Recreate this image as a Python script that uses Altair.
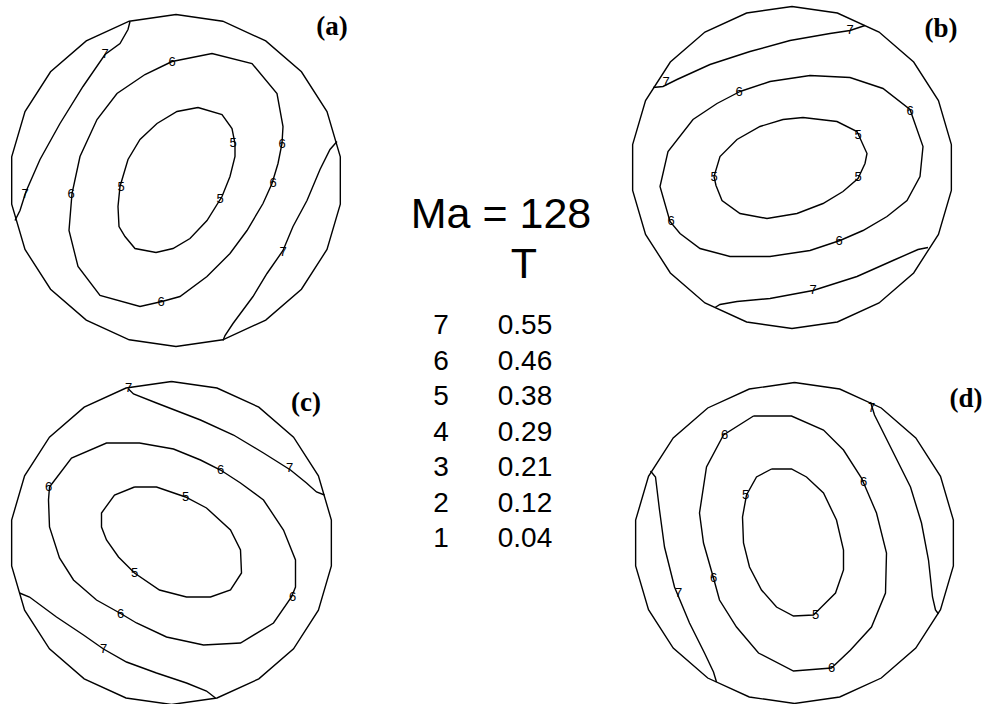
import math

import altair as alt
import pandas as pd

# ---------------------------------------------------------------------------
# Contour traces of T on the four discs. Points are (u, v) offsets from the
# disc centre in plot units, v pointing up. Closed curves repeat their start.
# ---------------------------------------------------------------------------
A_LEVEL5 = [(22, 73), (46, 66), (56, 52), (59, 37), (59, 24), (54, 4), (46, -16),
            (31, -40), (14, -58), (-3, -68), (-20, -72), (-41, -68), (-51, -56),
            (-57, -46), (-58, -26), (-56, -6), (-48, 21), (-36, 41), (-19, 57),
            (1, 69), (22, 73)]
A_LEVEL6 = [(-4, 119), (36, 127), (76, 117), (101, 87), (107, 54), (106, 37),
            (102, 17), (96, -3), (87, -23), (71, -50), (54, -73), (31, -96),
            (4, -116), (-14, -121), (-36, -126), (-76, -115), (-98, -86),
            (-107, -50), (-104, -13), (-96, 24), (-79, 61), (-59, 87), (-31, 106),
            (-4, 119)]
A_LEVEL7_WEST = [(-46, 159), (-48, 151), (-56, 137), (-71, 126), (-93, 94),
                 (-116, 57), (-136, 21), (-150, -11), (-156, -30), (-161, -40)]
A_LEVEL7_EAST = [(161, 39), (154, 31), (144, 11), (131, -20), (117, -46),
                 (107, -70), (91, -93), (77, -116), (57, -143), (49, -155),
                 (47, -160)]
A_TAGS = [(57, 38, "5"), (-55, -6, "5"), (44, -18, "5"), (-4, 119, "6"),
          (106, 37, "6"), (97, -2, "6"), (-15, -121, "6"), (-105, -13, "6"),
          (-71, 127, "7"), (-151, -13, "7"), (107, -71, "7")]

B_LEVEL5 = [(11, 50), (45, 46), (65, 36), (75, 14), (73, 4), (66, -11), (51, -24),
            (31, -36), (5, -46), (-25, -51), (-52, -46), (-70, -33), (-76, -18),
            (-78, -9), (-72, 11), (-55, 28), (-32, 41), (-9, 48), (11, 50)]
B_LEVEL6 = [(-52, 76), (-22, 86), (18, 92), (58, 90), (91, 79), (118, 58),
            (131, 21), (128, -9), (115, -33), (95, -49), (71, -63), (48, -73),
            (18, -83), (-22, -89), (-62, -89), (-92, -81), (-112, -66),
            (-122, -54), (-132, -19), (-124, 16), (-99, 48), (-75, 64), (-52, 76)]
B_LEVEL7_NORTH = [(-139, 80), (-129, 81), (-115, 88), (-82, 103), (-42, 116),
                  (-2, 127), (38, 134), (58, 137), (73, 142)]
B_LEVEL7_SOUTH = [(136, -80), (126, -82), (101, -93), (65, -109), (21, -123),
                  (-22, -131), (-55, -134), (-72, -137), (-77, -140)]
B_TAGS = [(66, 33, "5"), (-78, -9, "5"), (66, -9, "5"), (-53, 76, "6"),
          (118, 57, "6"), (47, -73, "6"), (-121, -53, "6"), (58, 138, "7"),
          (-126, 86, "7"), (21, -122, "7")]

C_LEVEL5 = [(-37, 56), (-15, 56), (14, 46), (35, 35), (59, 13), (69, -7),
            (70, -30), (59, -47), (39, -54), (15, -54), (-12, -47), (-37, -30),
            (-53, -14), (-65, 3), (-70, 16), (-70, 30), (-57, 48), (-37, 56)]
C_LEVEL6 = [(-122, 56), (-100, 85), (-65, 100), (-32, 100), (2, 94), (29, 83),
            (49, 73), (69, 60), (92, 43), (112, 13), (124, -17), (124, -44),
            (120, -54), (102, -80), (69, -100), (32, -102), (-5, -94), (-35, -80),
            (-50, -71), (-75, -57), (-98, -37), (-112, -15), (-122, 16),
            (-123, 43), (-122, 56)]
C_LEVEL7_NORTH = [(-43, 154), (-38, 149), (-15, 140), (29, 123), (62, 108),
                  (92, 90), (119, 73), (135, 60), (145, 51), (153, 48)]
C_LEVEL7_SOUTH = [(-152, -50), (-142, -54), (-115, -74), (-88, -92), (-68, -106),
                  (-45, -119), (-15, -130), (15, -140), (35, -148), (44, -155)]
C_TAGS = [(14, 46, "5"), (-37, -30, "5"), (-123, 56, "6"), (49, 73, "6"),
          (121, -54, "6"), (-51, -71, "6"), (-43, 155, "7"), (118, 75, "7"),
          (-68, -106, "7")]

D_LEVEL5 = [(-23, 74), (-3, 74), (12, 66), (29, 50), (42, 23), (49, -7),
            (49, -27), (41, -50), (27, -64), (19, -72), (-1, -73), (-18, -64),
            (-33, -47), (-45, -24), (-51, 0), (-52, 26), (-48, 48), (-38, 66),
            (-23, 74)]
D_LEVEL6 = [(-41, 127), (-3, 127), (29, 113), (49, 93), (67, 65), (82, 30),
            (92, -10), (91, -50), (77, -84), (56, -107), (37, -125), (-1, -128),
            (-36, -110), (-58, -84), (-75, -57), (-81, -35), (-91, 0), (-95, 30),
            (-88, 76), (-71, 108), (-41, 127)]
D_LEVEL7_WEST = [(-144, 72), (-139, 66), (-135, 33), (-130, -4), (-120, -44),
                 (-105, -80), (-90, -110), (-81, -129), (-78, -139)]
D_LEVEL7_EAST = [(76, 141), (80, 128), (96, 96), (116, 56), (127, 20),
                 (134, -17), (138, -54), (141, -67), (144, -71)]
D_TAGS = [(21, -72, "5"), (-49, 48, "5"), (69, 61, "6"), (37, -125, "6"),
          (-81, -35, "6"), (-70, 108, "6"), (-116, -50, "7"), (77, 135, "7")]

# Key of contour levels
LEVELS = [7, 6, 5, 4, 3, 2, 1]
T_VALUES = [0.55, 0.46, 0.38, 0.29, 0.21, 0.12, 0.04]
MA = 128

# ---------------------------------------------------------------------------
INK = "black"
LINE_W = 1.4
TAG_FONT = "Liberation Sans"
KEY_FONT = "Liberation Sans"
PANEL_FONT = "Liberation Serif"
SIDES = 22  # the disc rim is drawn as a regular polygon


def rim(radius):
    pts = []
    for k in range(SIDES + 1):
        a = math.pi / 2 + 2 * math.pi * k / SIDES
        pts.append((radius * math.cos(a), radius * math.sin(a)))
    return pts


def panel(name, traces, tags, centre, radius, letter_at):
    cx, cy = centre
    xs = alt.Scale(domain=[-radius, radius], range=[cx - radius, cx + radius],
                   nice=False, zero=False)
    ys = alt.Scale(domain=[-radius, radius], range=[cy + radius, cy - radius],
                   nice=False, zero=False)

    rows = []
    for key, pts in list(traces.items()) + [("rim", rim(radius))]:
        for i, (u, v) in enumerate(pts):
            rows.append({"key": key, "i": i, "u": u, "v": v})
    lines = alt.Chart(pd.DataFrame(rows)).mark_line(
        color=INK, strokeWidth=LINE_W, strokeJoin="miter"
    ).encode(
        x=alt.X("u:Q", scale=xs, axis=None),
        y=alt.Y("v:Q", scale=ys, axis=None),
        detail="key:N",
        order="i:Q",
    )

    tag_df = pd.DataFrame(tags, columns=["u", "v", "t"])
    labels = alt.Chart(tag_df).mark_text(
        font=TAG_FONT, fontSize=13, color=INK, baseline="middle", align="center"
    ).encode(
        x=alt.X("u:Q", scale=xs, axis=None),
        y=alt.Y("v:Q", scale=ys, axis=None),
        text="t:N",
    )

    letter = alt.Chart(pd.DataFrame({"t": [f"({name})"]})).mark_text(
        font=PANEL_FONT, fontSize=27, fontWeight="bold", color=INK,
        align="center", baseline="alphabetic"
    ).encode(
        x=alt.value(letter_at[0]),
        y=alt.value(letter_at[1]),
        text="t:N",
    )
    return alt.layer(lines, labels, letter)


pa = panel("a", {"l5": A_LEVEL5, "l6": A_LEVEL6, "l7w": A_LEVEL7_WEST,
                 "l7e": A_LEVEL7_EAST}, A_TAGS, (176, 180.5), 166, (332, 35))
pb = panel("b", {"l5": B_LEVEL5, "l6": B_LEVEL6, "l7n": B_LEVEL7_NORTH,
                 "l7s": B_LEVEL7_SOUTH}, B_TAGS, (792, 167.5), 161, (941, 37))
pc = panel("c", {"l5": C_LEVEL5, "l6": C_LEVEL6, "l7n": C_LEVEL7_NORTH,
                 "l7s": C_LEVEL7_SOUTH}, C_TAGS, (171.5, 543), 161.5, (306, 411))
pd_ = panel("d", {"l5": D_LEVEL5, "l6": D_LEVEL6, "l7w": D_LEVEL7_WEST,
                  "l7e": D_LEVEL7_EAST}, D_TAGS, (794.5, 543), 160.5, (966, 407))

# Key in the middle: Ma heading, T heading and one row per contour level
key_df = pd.DataFrame({"level": LEVELS, "T": T_VALUES})
row_scale = alt.Scale(domain=[1, 7], range=[539, 326], nice=False, zero=False)
key_levels = alt.Chart(key_df).mark_text(
    font=KEY_FONT, fontSize=28, color=INK, align="center", baseline="middle"
).encode(
    x=alt.value(441),
    y=alt.Y("level:Q", scale=row_scale, axis=None),
    text=alt.Text("level:Q", format="d"),
)
key_values = alt.Chart(key_df).mark_text(
    font=KEY_FONT, fontSize=28, color=INK, align="center", baseline="middle"
).encode(
    x=alt.value(525),
    y=alt.Y("level:Q", scale=row_scale, axis=None),
    text=alt.Text("T:Q", format=".2f"),
)
heading = alt.Chart(pd.DataFrame({"t": [f"Ma = {MA}"]})).mark_text(
    font=KEY_FONT, fontSize=43, color=INK, align="center", baseline="alphabetic"
).encode(x=alt.value(501), y=alt.value(228), text="t:N")
t_head = alt.Chart(pd.DataFrame({"t": ["T"]})).mark_text(
    font=KEY_FONT, fontSize=43, color=INK, align="center", baseline="alphabetic"
).encode(x=alt.value(524), y=alt.value(278), text="t:N")
key = alt.layer(key_levels, key_values, heading, t_head)

chart = alt.layer(pa, pb, pc, pd_, key).resolve_scale(
    x="independent", y="independent"
).properties(
    width=987, height=704, padding=0,
    autosize=alt.AutoSizeParams(type="none"),
    background="white",
).configure_view(stroke=None)

chart.save("out.html", embed_options={"renderer": "svg", "actions": False})
